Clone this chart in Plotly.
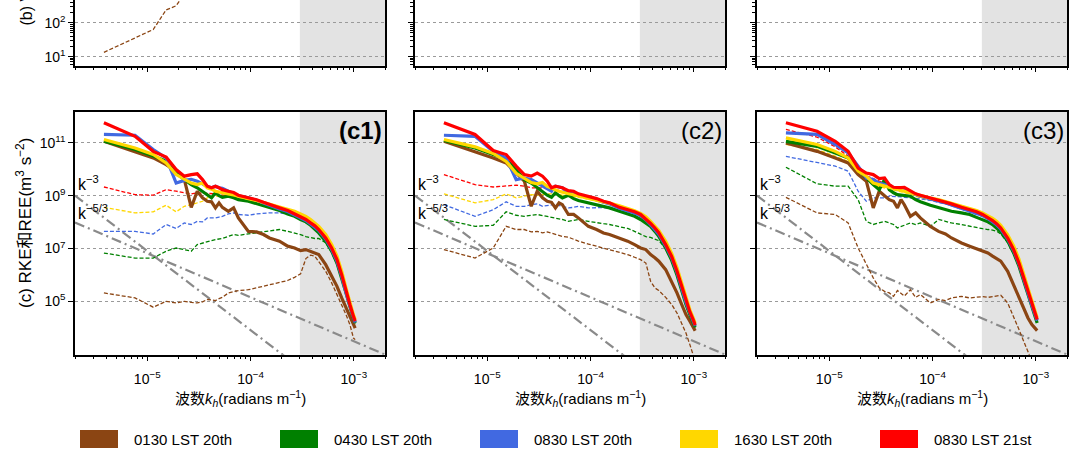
import numpy as np
import plotly.graph_objects as go

W, H = 1080, 459
FONT = "Liberation Sans, Arial, Noto Sans CJK SC, sans-serif"

# ---------------- data ----------------
DK = 3.81e-6  # wavenumber spacing (radians m^-1)
N_IDX = [1, 2, 3, 4, 5, 6, 7, 8, 9, 10, 11, 12, 13, 14, 16, 18, 20, 25, 30, 35, 40,
         50, 60, 70, 80, 90, 100, 110, 120, 140, 160, 180, 200, 220, 240, 260, 270]

series_names = ["0130 LST 20th", "0430 LST 20th", "0830 LST 20th", "1630 LST 20th", "0830 LST 21st"]
series_colors = ["#8B4513", "#008000", "#4169E1", "#FFD700", "#FF0000"]

# log10 of spectral energy (m^3 s^-2); solid = RKE, dashed = REE
c1_solid_0130 = [11.06, 10.68, 10.43, 10.18, 9.93, 9.61, 8.56, 9.17, 8.92, 8.79, 8.77, 8.54, 8.73, 8.56, 8.41, 8.54, 8.16, 7.65, 7.63, 7.53, 7.40, 7.28, 7.09, 7.02, 6.92, 6.96, 6.90, 6.85, 6.77, 6.39, 5.95, 5.57, 5.13, 4.75, 4.43, 4.12, 3.99]
c1_solid_0430 = [11.06, 10.75, 10.50, 10.31, 9.86, 9.61, 9.42, 9.30, 9.17, 9.02, 8.92, 9.11, 9.00, 8.94, 8.98, 8.92, 8.85, 8.79, 8.70, 8.63, 8.56, 8.44, 8.31, 8.22, 8.10, 8.01, 7.88, 7.74, 7.59, 7.28, 6.90, 6.45, 5.89, 5.32, 4.81, 4.37, 4.18]
c1_solid_0830 = [11.32, 11.29, 10.75, 10.43, 9.48, 9.58, 9.62, 9.55, 9.45, 9.35, 9.30, 9.36, 9.30, 9.28, 9.17, 9.08, 9.00, 8.92, 8.83, 8.72, 8.63, 8.50, 8.40, 8.28, 8.18, 8.06, 7.93, 7.81, 7.68, 7.36, 6.97, 6.52, 5.95, 5.32, 4.82, 4.38, 4.20]
c1_solid_1630 = [11.13, 10.81, 10.56, 10.24, 9.80, 9.61, 9.48, 9.42, 9.48, 9.30, 9.25, 9.17, 9.15, 9.11, 9.07, 9.03, 8.98, 8.89, 8.82, 8.75, 8.69, 8.59, 8.50, 8.41, 8.31, 8.22, 8.10, 7.98, 7.84, 7.53, 7.15, 6.71, 6.14, 5.51, 4.94, 4.49, 4.31]
c1_solid_0830b = [11.76, 11.25, 10.68, 10.46, 9.99, 9.74, 9.80, 9.83, 9.61, 9.36, 9.30, 9.36, 9.30, 9.23, 9.17, 9.12, 9.02, 8.94, 8.85, 8.75, 8.66, 8.54, 8.44, 8.31, 8.22, 8.10, 7.97, 7.86, 7.72, 7.40, 7.02, 6.58, 6.01, 5.38, 4.88, 4.43, 4.25]
c1_dashed_0130 = [5.32, 5.13, 4.78, 5.00, 4.94, 5.00, 4.96, 4.94, 4.98, 5.07, 5.05, 5.03, 5.10, 5.15, 5.32, 5.38, 5.41, 5.44, 5.51, 5.57, 5.63, 5.73, 5.79, 5.91, 6.04, 6.62, 6.75, 6.71, 6.52, 6.14, 5.70, 5.26, 4.88, 4.50, 4.12, 3.61, 3.55]
c1_dashed_0430 = [6.83, 6.64, 6.64, 6.90, 7.02, 6.96, 6.90, 7.15, 7.21, 7.28, 7.30, 7.34, 7.36, 7.38, 7.46, 7.53, 7.50, 7.55, 7.59, 7.63, 7.68, 7.72, 7.65, 7.59, 7.53, 7.45, 7.40, 7.38, 7.38, 7.22, 6.85, 6.40, 5.85, 5.28, 4.77, 4.33, 4.14]
c1_dashed_0830 = [7.65, 7.65, 7.55, 7.91, 7.76, 7.97, 7.91, 8.03, 8.01, 8.16, 8.16, 8.16, 8.19, 8.22, 8.31, 8.35, 8.29, 8.26, 8.31, 8.33, 8.35, 8.35, 8.30, 8.22, 8.12, 8.00, 7.88, 7.77, 7.64, 7.32, 6.93, 6.48, 5.91, 5.28, 4.78, 4.34, 4.16]
c1_dashed_1630 = [8.56, 8.35, 8.39, 8.64, 8.39, 8.60, 8.66, 8.73, 8.79, 8.92, 8.95, 8.98, 9.00, 9.02, 9.00, 8.97, 8.93, 8.85, 8.78, 8.71, 8.65, 8.55, 8.46, 8.37, 8.27, 8.18, 8.06, 7.94, 7.80, 7.49, 7.11, 6.67, 6.10, 5.47, 4.90, 4.45, 4.27]
c1_dashed_0830b = [9.33, 9.04, 9.02, 9.23, 9.17, 9.11, 9.07, 9.11, 9.10, 9.11, 9.09, 9.07, 9.05, 9.02, 9.00, 8.97, 8.95, 8.88, 8.80, 8.70, 8.61, 8.49, 8.39, 8.26, 8.17, 8.05, 7.92, 7.80, 7.67, 7.35, 6.97, 6.53, 5.96, 5.33, 4.83, 4.38, 4.20]

c2_solid_0130 = [11.06, 10.68, 10.43, 10.24, 9.86, 9.55, 8.60, 9.17, 8.92, 8.79, 8.75, 8.54, 8.73, 8.66, 8.29, 8.29, 8.16, 7.84, 7.72, 7.59, 7.53, 7.40, 7.28, 7.15, 7.02, 6.96, 6.77, 6.65, 6.52, 6.20, 5.76, 5.32, 4.88, 4.50, 4.25, 3.99, 3.89]
c2_solid_0430 = [11.09, 10.81, 10.56, 10.37, 9.99, 9.61, 9.48, 9.30, 9.17, 9.02, 8.94, 9.11, 9.00, 8.92, 9.02, 8.89, 8.82, 8.73, 8.64, 8.59, 8.54, 8.41, 8.31, 8.22, 8.10, 7.97, 7.84, 7.65, 7.46, 7.02, 6.55, 6.00, 5.40, 4.88, 4.50, 4.18, 4.02]
c2_solid_0830 = [11.29, 11.25, 10.68, 10.43, 9.61, 9.67, 9.61, 9.48, 9.36, 9.23, 9.17, 9.36, 9.33, 9.30, 9.11, 9.10, 9.02, 8.94, 8.85, 8.75, 8.69, 8.53, 8.44, 8.35, 8.25, 8.09, 7.90, 7.72, 7.54, 7.10, 6.65, 6.10, 5.50, 4.96, 4.57, 4.25, 4.07]
c2_solid_1630 = [11.13, 10.85, 10.60, 10.30, 9.85, 9.65, 9.50, 9.45, 9.50, 9.35, 9.28, 9.20, 9.17, 9.13, 9.08, 9.04, 9.00, 8.92, 8.85, 8.78, 8.72, 8.62, 8.52, 8.43, 8.33, 8.20, 8.03, 7.86, 7.68, 7.27, 6.82, 6.28, 5.67, 5.10, 4.68, 4.35, 4.17]
c2_solid_0830b = [11.76, 11.32, 10.71, 10.56, 10.12, 9.80, 9.74, 9.86, 9.74, 9.55, 9.30, 9.36, 9.33, 9.30, 9.19, 9.17, 9.07, 8.98, 8.89, 8.79, 8.73, 8.56, 8.47, 8.39, 8.29, 8.13, 7.95, 7.78, 7.60, 7.15, 6.70, 6.15, 5.55, 5.00, 4.60, 4.28, 4.10]
c2_dashed_0130 = [6.96, 6.64, 7.02, 7.84, 7.72, 7.72, 7.63, 7.65, 7.59, 7.63, 7.58, 7.53, 7.50, 7.46, 7.43, 7.34, 7.28, 7.17, 7.09, 7.02, 6.96, 6.87, 6.77, 6.67, 6.58, 6.45, 5.76, 5.51, 5.41, 5.15, 4.88, 4.56, 4.18, 3.80, 3.36, 2.92, 2.73]
c2_dashed_0430 = [8.10, 7.84, 7.88, 8.39, 8.26, 8.22, 8.26, 8.29, 8.25, 8.22, 8.19, 8.16, 8.13, 8.10, 8.03, 8.06, 8.10, 8.03, 7.97, 7.94, 7.91, 7.84, 7.76, 7.65, 7.53, 7.45, 7.42, 7.36, 7.30, 7.00, 6.52, 5.97, 5.37, 4.85, 4.47, 4.15, 3.99]
c2_dashed_0830 = [8.66, 8.22, 8.47, 8.77, 8.60, 8.60, 8.66, 8.69, 8.60, 8.64, 8.65, 8.66, 8.63, 8.60, 8.54, 8.56, 8.60, 8.54, 8.55, 8.55, 8.52, 8.45, 8.38, 8.30, 8.20, 8.05, 7.86, 7.68, 7.50, 7.06, 6.61, 6.06, 5.46, 4.92, 4.53, 4.21, 4.03]
c2_dashed_1630 = [9.07, 8.73, 8.85, 9.07, 8.92, 8.98, 9.04, 9.02, 9.05, 9.07, 9.07, 9.07, 9.05, 9.02, 9.00, 8.97, 8.94, 8.87, 8.80, 8.73, 8.67, 8.57, 8.47, 8.38, 8.28, 8.15, 7.98, 7.81, 7.63, 7.22, 6.77, 6.23, 5.62, 5.05, 4.63, 4.30, 4.12]
c2_dashed_0830b = [9.80, 9.42, 9.33, 9.36, 9.40, 9.36, 9.30, 9.30, 9.30, 9.30, 9.27, 9.23, 9.20, 9.17, 9.11, 9.07, 9.02, 8.93, 8.84, 8.74, 8.68, 8.51, 8.42, 8.34, 8.24, 8.08, 7.90, 7.73, 7.55, 7.10, 6.65, 6.10, 5.50, 4.95, 4.55, 4.23, 4.04]

c3_solid_0130 = [11.00, 10.68, 10.43, 10.24, 9.80, 9.55, 8.54, 9.17, 9.00, 8.85, 8.79, 8.54, 8.85, 8.66, 8.22, 8.35, 8.16, 7.84, 7.65, 7.55, 7.40, 7.21, 7.09, 7.00, 6.90, 6.83, 6.71, 6.62, 6.52, 6.14, 5.63, 5.19, 4.75, 4.37, 4.12, 3.97, 3.89]
c3_solid_0430 = [11.06, 10.87, 10.62, 10.43, 9.99, 9.67, 9.42, 9.23, 9.61, 9.23, 9.11, 9.04, 9.03, 9.02, 8.98, 8.85, 8.77, 8.64, 8.56, 8.47, 8.41, 8.35, 8.29, 8.18, 8.10, 8.01, 7.91, 7.78, 7.63, 7.28, 6.83, 6.33, 5.76, 5.19, 4.75, 4.37, 4.18]
c3_solid_0830 = [11.38, 11.32, 10.94, 10.62, 10.12, 9.67, 9.61, 9.48, 9.42, 9.40, 9.30, 9.23, 9.25, 9.27, 9.11, 9.03, 8.98, 8.88, 8.81, 8.73, 8.65, 8.52, 8.43, 8.35, 8.25, 8.14, 8.02, 7.89, 7.74, 7.36, 6.92, 6.41, 5.85, 5.28, 4.84, 4.46, 4.27]
c3_solid_1630 = [11.19, 10.94, 10.68, 10.43, 9.93, 9.74, 9.48, 9.42, 9.36, 9.30, 9.27, 9.23, 9.20, 9.17, 9.11, 9.04, 8.98, 8.91, 8.85, 8.78, 8.72, 8.61, 8.52, 8.44, 8.35, 8.25, 8.14, 8.02, 7.88, 7.52, 7.10, 6.60, 6.03, 5.45, 4.98, 4.58, 4.38]
c3_solid_0830b = [11.76, 11.44, 11.06, 10.68, 10.05, 9.86, 9.80, 9.65, 9.67, 9.42, 9.32, 9.30, 9.31, 9.32, 9.17, 9.07, 9.02, 8.92, 8.85, 8.77, 8.69, 8.56, 8.47, 8.39, 8.29, 8.18, 8.06, 7.93, 7.78, 7.40, 6.96, 6.45, 5.89, 5.32, 4.88, 4.50, 4.31]
c3_dashed_0130 = [8.94, 8.35, 8.29, 7.97, 7.02, 6.39, 5.89, 5.51, 5.38, 5.32, 5.19, 5.41, 5.30, 5.20, 5.44, 5.15, 5.26, 4.94, 5.07, 5.03, 5.13, 5.19, 5.13, 5.15, 5.18, 5.15, 5.19, 5.21, 5.23, 4.94, 4.43, 3.93, 3.49, 3.05, 2.67, 2.40, 2.30]
c3_dashed_0430 = [10.08, 9.45, 9.36, 9.36, 8.85, 8.03, 7.91, 7.97, 8.03, 7.97, 7.91, 7.78, 7.83, 7.88, 7.97, 7.91, 7.97, 7.84, 8.10, 8.03, 7.97, 7.91, 7.84, 7.78, 7.75, 7.72, 7.70, 7.65, 7.55, 7.22, 6.80, 6.30, 5.73, 5.16, 4.72, 4.34, 4.15]
c3_dashed_0830 = [10.49, 10.24, 10.12, 9.93, 9.17, 8.79, 8.92, 8.92, 8.92, 8.98, 8.98, 8.98, 8.96, 8.94, 8.92, 8.90, 8.88, 8.82, 8.76, 8.69, 8.62, 8.49, 8.40, 8.32, 8.22, 8.11, 7.99, 7.86, 7.71, 7.33, 6.89, 6.38, 5.82, 5.25, 4.81, 4.43, 4.24]
c3_dashed_1630 = [10.94, 10.75, 10.50, 10.30, 9.85, 9.65, 9.40, 9.35, 9.30, 9.25, 9.22, 9.18, 9.15, 9.12, 9.05, 8.98, 8.92, 8.85, 8.79, 8.72, 8.66, 8.55, 8.46, 8.38, 8.29, 8.19, 8.08, 7.96, 7.82, 7.46, 7.04, 6.54, 5.97, 5.39, 4.92, 4.52, 4.32]
c3_dashed_0830b = [11.51, 11.22, 10.85, 10.50, 10.00, 9.75, 9.65, 9.55, 9.50, 9.35, 9.27, 9.22, 9.22, 9.22, 9.10, 9.01, 8.96, 8.86, 8.79, 8.71, 8.63, 8.50, 8.41, 8.33, 8.23, 8.12, 8.00, 7.87, 7.72, 7.34, 6.90, 6.39, 5.83, 5.26, 4.82, 4.44, 4.25]

# top row (b1), only the visible part
B_N_IDX = [1, 2, 3, 4, 5, 6, 8]
b1_dashed_0130 = [1.13, 1.56, 1.80, 2.38, 2.50, 2.85, 3.20]

# reference power laws: log10 amplitude at k = 1e-5
REF_SLOPES = [-3.0, -5.0 / 3.0]
REF_LOGAMP = [6.91, 6.82]
REF_LABELS = ["k<sup>−3</sup>", "k<sup>−5/3</sup>"]
REF_LABEL_LOGY = [9.47, 8.40]

SHADE_K0 = 3.0e-4
WAVELENGTH_MAJOR_M = [1e6, 1e5, 1e4]

c_data = {
    1: {"solid": [c1_solid_0130, c1_solid_0430, c1_solid_0830, c1_solid_1630, c1_solid_0830b],
        "dashed": [c1_dashed_0130, c1_dashed_0430, c1_dashed_0830, c1_dashed_1630, c1_dashed_0830b]},
    2: {"solid": [c2_solid_0130, c2_solid_0430, c2_solid_0830, c2_solid_1630, c2_solid_0830b],
        "dashed": [c2_dashed_0130, c2_dashed_0430, c2_dashed_0830, c2_dashed_1630, c2_dashed_0830b]},
    3: {"solid": [c3_solid_0130, c3_solid_0430, c3_solid_0830, c3_solid_1630, c3_solid_0830b],
        "dashed": [c3_dashed_0130, c3_dashed_0430, c3_dashed_0830, c3_dashed_1630, c3_dashed_0830b]},
}

# ---------------- geometry ----------------
def fx(px):
    return px / W

def fy(py):
    return 1 - py / H

PANEL_X = [(75, 385), (415, 725), (757, 1067)]
C_DOM_Y = [fy(354.7), fy(112)]
B_DOM_Y = [fy(65.7), 1.0]
XR = [np.log10(2e-6), np.log10(2e-3)]
C_YR = [2.98, 12.17]
B_YR = [0.735, 2.67]

GRID = "#9a9a9a"
SHADE = "#e3e3e3"
LINEC = "black"

K = np.array(N_IDX) * DK
KB = np.array(B_N_IDX) * DK

fig = go.Figure()

fig.add_trace(go.Scatter(x=KB, y=10 ** np.array(b1_dashed_0130), mode="lines",
                         line=dict(color=series_colors[0], width=1.3, dash="4px,2px"),
                         xaxis="x", yaxis="y", hoverinfo="skip"))
# b2 / b3: their curves lie above the visible area; empty traces keep the subplots alive
for ax in ("2", "3"):
    fig.add_trace(go.Scatter(x=[], y=[], mode="lines", xaxis=f"x{ax}", yaxis=f"y{ax}",
                             hoverinfo="skip"))

k_ref = 10 ** np.array(XR)
for p in (1, 2, 3):
    ax = 3 + p
    xa, ya = f"x{ax}", f"y{ax}"
    for slope, amp in zip(REF_SLOPES, REF_LOGAMP):
        fig.add_trace(go.Scatter(x=k_ref, y=10 ** amp * (k_ref / 1e-5) ** slope, mode="lines",
                                 line=dict(color="#8a8a8a", width=2.2, dash="10px,4px,2px,4px"),
                                 xaxis=xa, yaxis=ya, hoverinfo="skip"))
    for vals, col in zip(c_data[p]["dashed"], series_colors):
        fig.add_trace(go.Scatter(x=K, y=10 ** np.array(vals), mode="lines",
                                 line=dict(color=col, width=1.3, dash="4px,2px"),
                                 xaxis=xa, yaxis=ya, hoverinfo="skip"))
    for vals, col in zip(c_data[p]["solid"], series_colors):
        fig.add_trace(go.Scatter(x=K, y=10 ** np.array(vals), mode="lines",
                                 line=dict(color=col, width=3.2),
                                 xaxis=xa, yaxis=ya, hoverinfo="skip"))

# ---------------- axes ----------------
major_k = [1e-5, 1e-4, 1e-3]
major_txt = ["10<sup>−5</sup>", "10<sup>−4</sup>", "10<sup>−3</sup>"]
minor_k = [m * 10.0 ** e for e in range(-6, -2) for m in range(2, 10) if 2e-6 <= m * 10.0 ** e <= 2e-3]
wl_major = [2 * np.pi / L for L in WAVELENGTH_MAJOR_M]
wl_minor = [2 * np.pi / (m * 10.0 ** e) for e in (3, 4, 5, 6) for m in range(2, 10)
            if 2e-6 <= 2 * np.pi / (m * 10.0 ** e) <= 2e-3]

layout = dict(width=W, height=H, margin=dict(l=0, r=0, t=0, b=0),
              paper_bgcolor="white", plot_bgcolor="rgba(0,0,0,0)", showlegend=False,
              font=dict(family=FONT, size=14, color="black"))

tickfont = dict(family=FONT, size=14, color="black")

for i, (x0, x1) in enumerate(PANEL_X):
    dom = [fx(x0), fx(x1)]
    bi = i + 1
    sx = "" if bi == 1 else str(bi)
    layout[f"xaxis{sx}"] = dict(
        domain=dom, anchor=f"y{sx}", type="log", range=XR,
        tickmode="array", tickvals=major_k, ticktext=major_txt, showticklabels=False,
        ticks="outside", ticklen=5, tickwidth=1.2, tickcolor=LINEC,
        minor=dict(tickmode="array", tickvals=minor_k, ticks="outside", ticklen=3,
                   tickwidth=1, tickcolor=LINEC, showgrid=False),
        showgrid=False, showline=True, linecolor=LINEC, linewidth=1.5, mirror=False, zeroline=False)
    b_minor_y = [m * 10.0 ** e for e in (0, 1, 2) for m in range(2, 10)
                 if B_YR[0] <= np.log10(m * 10.0 ** e) <= B_YR[1]]
    layout[f"yaxis{sx}"] = dict(
        domain=B_DOM_Y, anchor=f"x{sx}", type="log", range=B_YR,
        tickmode="array", tickvals=[10, 100], ticktext=["10<sup>1</sup>", "10<sup>2</sup>"],
        showticklabels=(i == 0), tickfont=tickfont,
        ticks="outside", ticklen=5, tickwidth=1.2, tickcolor=LINEC,
        minor=dict(tickmode="array", tickvals=b_minor_y, ticks="outside", ticklen=3,
                   tickwidth=1, tickcolor=LINEC, showgrid=False),
        showgrid=True, gridcolor=GRID, griddash="dot", gridwidth=1,
        showline=True, linecolor=LINEC, linewidth=1.5, mirror=True, zeroline=False)
    ob = 7 + i
    layout[f"xaxis{ob}"] = dict(
        overlaying=f"x{sx}", anchor=f"y{sx}", side="top",
        type="log", range=XR, tickmode="array", tickvals=wl_major, ticks="",
        showticklabels=False, showgrid=True, gridcolor=GRID, griddash="dot", gridwidth=1,
        showline=False, zeroline=False)

    ci = 4 + i
    layout[f"xaxis{ci}"] = dict(
        domain=dom, anchor=f"y{ci}", type="log", range=XR,
        tickmode="array", tickvals=major_k, ticktext=major_txt, tickfont=tickfont,
        ticks="outside", ticklen=5, tickwidth=1.2, tickcolor=LINEC, ticklabelstandoff=6,
        minor=dict(tickmode="array", tickvals=minor_k, ticks="outside", ticklen=3,
                   tickwidth=1, tickcolor=LINEC, showgrid=False),
        showgrid=False, showline=True, linecolor=LINEC, linewidth=1.5, mirror=True, zeroline=False)
    layout[f"yaxis{ci}"] = dict(
        domain=C_DOM_Y, anchor=f"x{ci}", type="log", range=C_YR,
        tickmode="array", tickvals=[1e5, 1e7, 1e9, 1e11],
        ticktext=["10<sup>5</sup>", "10<sup>7</sup>", "10<sup>9</sup>", "10<sup>11</sup>"],
        showticklabels=(i == 0), tickfont=tickfont,
        ticks="outside", ticklen=5, tickwidth=1.2, tickcolor=LINEC,
        showgrid=True, gridcolor=GRID, griddash="dot", gridwidth=1,
        showline=True, linecolor=LINEC, linewidth=1.5, mirror=True, zeroline=False)
    oc = 10 + i
    layout[f"xaxis{oc}"] = dict(
        overlaying=f"x{ci}", anchor=f"y{ci}", side="top",
        type="log", range=XR, tickmode="array", tickvals=wl_major,
        ticks="outside", ticklen=5, tickwidth=1.2, tickcolor=LINEC, showticklabels=False,
        minor=dict(tickmode="array", tickvals=wl_minor, ticks="outside", ticklen=3,
                   tickwidth=1, tickcolor=LINEC, showgrid=False),
        showgrid=True, gridcolor=GRID, griddash="dot", gridwidth=1,
        showline=False, zeroline=False)

fig.update_layout(**layout)

# ---------------- shapes ----------------
shade_frac = (np.log10(SHADE_K0) - XR[0]) / (XR[1] - XR[0])
shapes = []
for ax in ["", "2", "3", "4", "5", "6"]:
    shapes.append(dict(type="rect", xref=f"x{ax} domain", yref=f"y{ax} domain",
                       x0=shade_frac, x1=1, y0=0, y1=1,
                       fillcolor=SHADE, line=dict(width=0), layer="below"))

LEG_X0, LEG_STEP, LEG_W, LEG_Y0, LEG_Y1 = 80, 200, 38, 430, 448
annotations = []
for i, (name, col) in enumerate(zip(series_names, series_colors)):
    xs = LEG_X0 + i * LEG_STEP
    shapes.append(dict(type="rect", xref="paper", yref="paper",
                       x0=fx(xs), x1=fx(xs + LEG_W), y0=fy(LEG_Y1), y1=fy(LEG_Y0),
                       fillcolor=col, line=dict(width=0)))
    annotations.append(dict(text=name, xref="paper", yref="paper", x=fx(xs + LEG_W + 14),
                            y=fy((LEG_Y0 + LEG_Y1) / 2), xanchor="left", yanchor="middle",
                            showarrow=False, font=dict(family=FONT, size=15, color="black")))

# ---------------- annotations ----------------
panel_labels = ["<b>(c1)</b>", "(c2)", "(c3)"]
for i, (x0, x1) in enumerate(PANEL_X):
    ci = 4 + i
    annotations.append(dict(text=panel_labels[i], xref=f"x{ci} domain", yref=f"y{ci} domain",
                            x=1, y=1, xanchor="right", yanchor="top", xshift=-1, yshift=-3,
                            showarrow=False, font=dict(family=FONT, size=24, color="black")))
    for lab, ly in zip(REF_LABELS, REF_LABEL_LOGY):
        annotations.append(dict(text=lab, xref=f"x{ci} domain", yref=f"y{ci}",
                                x=0.0, y=ly, xanchor="left", yanchor="middle", xshift=1,
                                showarrow=False, font=dict(family=FONT, size=16, color="black")))
    annotations.append(dict(text="波数<i>k</i><sub><i>h</i></sub>(radians m<sup>−1</sup>)",
                            xref="paper", yref="paper", x=fx((x0 + x1) / 2 + 10), y=fy(398),
                            xanchor="center", yanchor="middle", showarrow=False,
                            font=dict(family=FONT, size=15, color="black")))

annotations.append(dict(text="(c) RKE和REE(m<sup>3</sup> s<sup>−2</sup>)", xref="paper", yref="paper",
                        x=fx(24), y=fy(223), xanchor="center", yanchor="middle", textangle=-90,
                        showarrow=False, font=dict(family=FONT, size=17, color="black")))
annotations.append(dict(text="(b) V", xref="paper", yref="paper",
                        x=fx(26), y=fy(28), xanchor="center", yanchor="bottom", textangle=-90,
                        showarrow=False, font=dict(family=FONT, size=16, color="black")))

fig.update_layout(shapes=shapes, annotations=annotations)

fig.write_html("out.html", config={"displayModeBar": False},
               post_script="document.body.style.margin='0';")
